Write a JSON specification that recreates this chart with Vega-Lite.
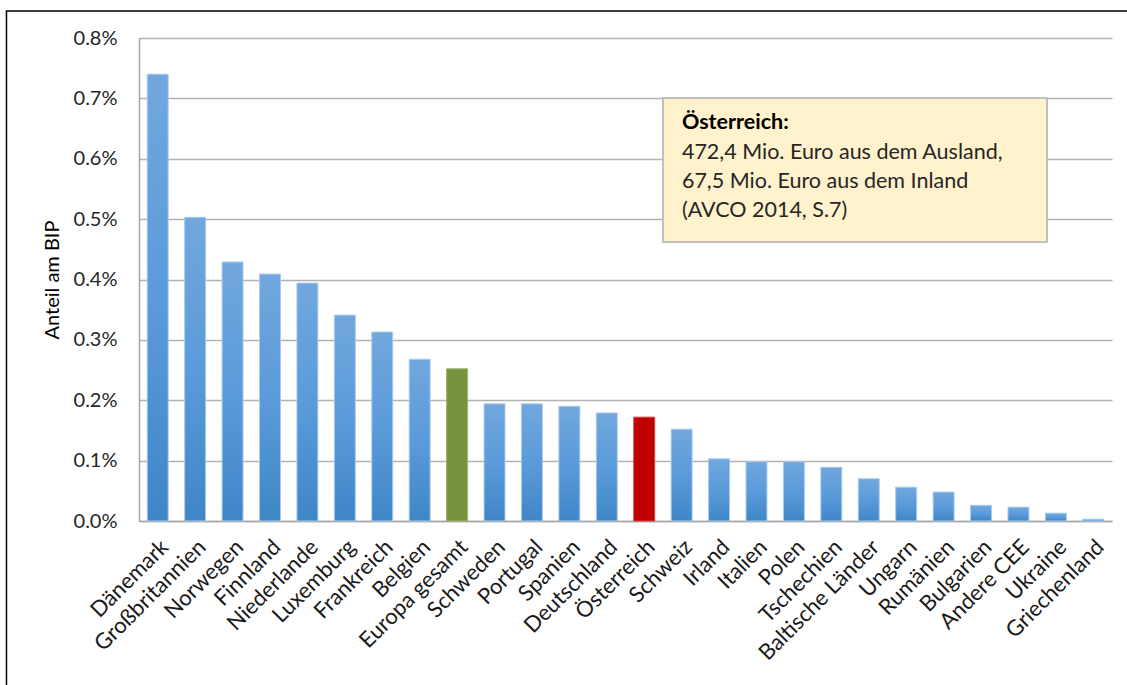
{
  "$schema": "https://vega.github.io/schema/vega-lite/v6.json",
  "width": 973,
  "height": 483,
  "autosize": {"type": "none"},
  "padding": {"left": 139, "top": 38, "right": 15, "bottom": 164},
  "background": "white",
  "config": {"view": {"stroke": null}, "font": "Lato"},
  "data": {
    "values": [
      {"land": "Dänemark", "anteil": 0.0074},
      {"land": "Großbritannien", "anteil": 0.00503},
      {"land": "Norwegen", "anteil": 0.00429},
      {"land": "Finnland", "anteil": 0.00409},
      {"land": "Niederlande", "anteil": 0.00394},
      {"land": "Luxemburg", "anteil": 0.00341},
      {"land": "Frankreich", "anteil": 0.00313},
      {"land": "Belgien", "anteil": 0.00268},
      {"land": "Europa gesamt", "anteil": 0.00252},
      {"land": "Schweden", "anteil": 0.00194},
      {"land": "Portugal", "anteil": 0.00194},
      {"land": "Spanien", "anteil": 0.0019},
      {"land": "Deutschland", "anteil": 0.00179},
      {"land": "Österreich", "anteil": 0.00172},
      {"land": "Schweiz", "anteil": 0.00152},
      {"land": "Irland", "anteil": 0.00103},
      {"land": "Italien", "anteil": 0.00098},
      {"land": "Polen", "anteil": 0.00098},
      {"land": "Tschechien", "anteil": 0.00089},
      {"land": "Baltische Länder", "anteil": 0.0007},
      {"land": "Ungarn", "anteil": 0.00056},
      {"land": "Rumänien", "anteil": 0.00048},
      {"land": "Bulgarien", "anteil": 0.00026},
      {"land": "Andere CEE", "anteil": 0.00023},
      {"land": "Ukraine", "anteil": 0.00013},
      {"land": "Griechenland", "anteil": 0.00003}
    ]
  },
  "resolve": {"scale": {"x": "independent"}},
  "layer": [
    {
      "mark": {"type": "bar", "strokeWidth": 1},
      "encoding": {
        "x": {
          "field": "land",
          "type": "nominal",
          "sort": null,
          "scale": {"paddingInner": 0.44, "paddingOuter": 0.22},
          "axis": {
            "title": null,
            "labelAngle": -45,
            "labelFontSize": 22,
            "labelColor": "#1a1a1a",
            "labelPadding": 15,
            "ticks": false,
            "domainColor": "#A6A6A6",
            "domainWidth": 1.5,
            "labelOverlap": false
          }
        },
        "y": {
          "field": "anteil",
          "type": "quantitative",
          "scale": {"domain": [0, 0.008]},
          "axis": {
            "format": ".1%",
            "values": [0, 0.001, 0.002, 0.003, 0.004, 0.005, 0.006, 0.007, 0.008],
            "grid": true,
            "gridColor": "#B3B3B3",
            "gridWidth": 1.3,
            "ticks": false,
            "labelPadding": 22,
            "labelFontSize": 20,
            "labelColor": "#262626",
            "domainColor": "#A6A6A6",
            "domainWidth": 1.5,
            "title": "Anteil am BIP",
            "titleFontSize": 20,
            "titleFontWeight": "normal",
            "titleColor": "#000000",
            "titlePadding": 11
          }
        },
        "fill": {
          "condition": [
            {"test": "datum.land === 'Europa gesamt'", "value": "#77933C"},
            {"test": "datum.land === 'Österreich'", "value": "#C00000"}
          ],
          "value": {
            "gradient": "linear",
            "x1": 0, "y1": 0, "x2": 0, "y2": 1,
            "stops": [
              {"offset": 0, "color": "#71A7DD"},
              {"offset": 0.5, "color": "#5B9BDA"},
              {"offset": 1, "color": "#3F86C7"}
            ]
          }
        },
        "stroke": {
          "condition": [
            {"test": "datum.land === 'Europa gesamt'", "value": "#9DB36B"},
            {"test": "datum.land === 'Österreich'", "value": "#D84040"}
          ],
          "value": "#A9CBEC"
        }
      }
    },
    {
      "data": {"values": [{}]},
      "mark": {"type": "rect", "fill": "#FFF2CC", "stroke": "#BFBFBF", "strokeWidth": 2},
      "encoding": {
        "x": {"datum": 0.5386, "type": "quantitative", "scale": {"domain": [0, 1]}, "axis": null},
        "x2": {"datum": 0.9332},
        "y": {"datum": 0.007006, "type": "quantitative"},
        "y2": {"datum": 0.004621}
      }
    },
    {
      "data": {"values": [{"t": "Österreich:"}]},
      "mark": {"type": "text", "align": "left", "baseline": "alphabetic", "fontSize": 21.5, "fontWeight": "bold", "color": "#000000"},
      "encoding": {
        "x": {"datum": 0.558, "type": "quantitative", "scale": {"domain": [0, 1]}, "axis": null},
        "y": {"datum": 0.006493, "type": "quantitative"},
        "text": {"field": "t"}
      }
    },
    {
      "data": {"values": [{"t": ["472,4 Mio. Euro aus dem Ausland,", "67,5 Mio. Euro aus dem Inland", "(AVCO 2014, S.7)"]}]},
      "mark": {"type": "text", "align": "left", "baseline": "alphabetic", "fontSize": 21.5, "lineHeight": 29, "color": "#262626"},
      "encoding": {
        "x": {"datum": 0.558, "type": "quantitative", "scale": {"domain": [0, 1]}, "axis": null},
        "y": {"datum": 0.005996, "type": "quantitative"},
        "text": {"field": "t"}
      }
    },
    {
      "data": {"values": [{}]},
      "mark": {"type": "rect", "fill": null, "stroke": "#000000", "strokeWidth": 1.5},
      "encoding": {
        "x": {"datum": -0.1362, "type": "quantitative", "scale": {"domain": [0, 1]}, "axis": null},
        "x2": {"datum": 1.3},
        "y": {"datum": 0.008447, "type": "quantitative"},
        "y2": {"datum": -0.01}
      }
    }
  ]
}
